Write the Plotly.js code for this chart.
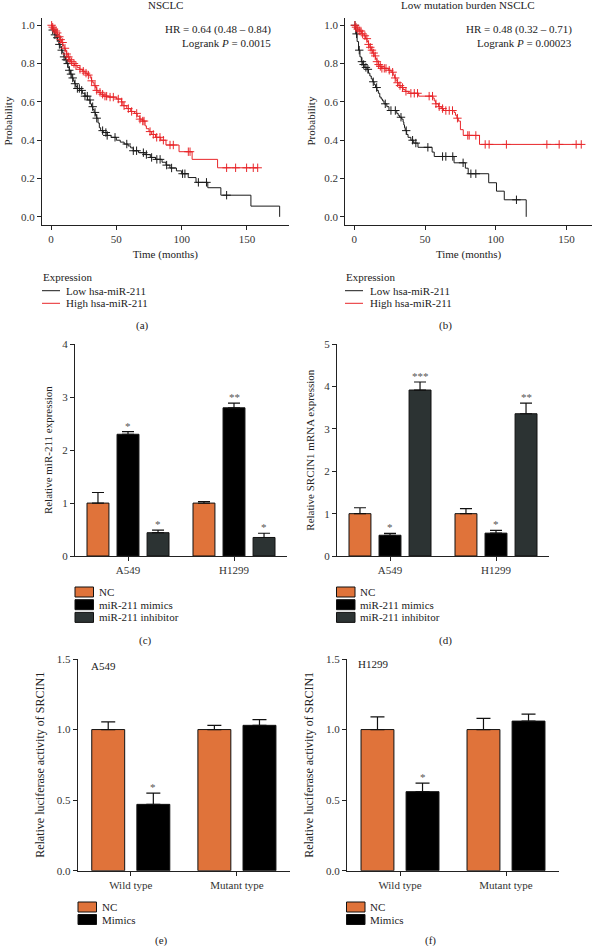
<!DOCTYPE html>
<html><head><meta charset="utf-8">
<script src="https://cdn.plot.ly/plotly-3.0.1.min.js"></script>
<style>html,body{margin:0;padding:0;background:#fff}#chart{width:592px;height:946px}</style>
</head><body><div id="chart"></div>
<script>
// ---------------- DATA ----------------
// (a) NSCLC Kaplan-Meier
var aLowT  = [0,1,2,3,4,5,6,7,8,9,10,11,12,13,14,15,16,17,18,19,20,22,24,26,28,30,31,32,33,34,35,36,37,38,40,43,46,50,53,56,59,61,63,67,72,76,80,85,88,91,96,100,105,111,120,130,153,175];
var aLowS  = [1.0,0.975,0.965,0.95,0.935,0.92,0.90,0.885,0.87,0.855,0.835,0.82,0.80,0.78,0.765,0.745,0.725,0.71,0.695,0.68,0.67,0.66,0.645,0.63,0.61,0.59,0.575,0.56,0.545,0.53,0.515,0.49,0.465,0.45,0.44,0.425,0.415,0.40,0.39,0.38,0.37,0.36,0.345,0.335,0.325,0.31,0.30,0.285,0.27,0.255,0.24,0.225,0.205,0.18,0.152,0.113,0.056,0.0];
var aLowCT = [1.3,3,4.8,6.4,8.2,10,11.5,12.8,14,15.3,16.6,18.4,20.2,21.7,23.5,26,27.8,29.8,31.9,33.7,35,39.5,42,43,49,58,63,65.5,70.7,73,77,81,83.5,88.5,92.3,100.7,102.5,112.8,119,134.4];
var aLowCS = [0.975,0.95,0.935,0.90,0.87,0.835,0.82,0.80,0.765,0.745,0.725,0.695,0.67,0.67,0.66,0.63,0.63,0.61,0.575,0.545,0.515,0.45,0.44,0.425,0.415,0.38,0.345,0.345,0.335,0.325,0.31,0.30,0.30,0.27,0.255,0.225,0.225,0.18,0.18,0.113];
var aHighT = [0,1,2,3,4,5,6,7,8,9,10,11,12,13,14,15,16,18,20,22,24,26,28,30,31,32,33,34,35,36,38,40,44,50,54,55,58,61,64,66,68,70,72,73,75,77,80,84,88,98,108,127.5,158.5];
var aHighS = [1.0,0.99,0.98,0.97,0.96,0.95,0.94,0.925,0.91,0.895,0.88,0.865,0.85,0.835,0.82,0.81,0.80,0.79,0.78,0.77,0.76,0.75,0.74,0.725,0.71,0.70,0.685,0.675,0.66,0.65,0.64,0.63,0.625,0.615,0.60,0.58,0.565,0.55,0.54,0.525,0.51,0.50,0.475,0.46,0.445,0.43,0.415,0.40,0.375,0.34,0.30,0.256,0.256];
var aHighCT = [0.5,1.3,2.3,3.8,4.8,6.4,7.4,8.9,10.7,12,13.3,14.5,15.8,17.6,19.1,22.2,24.7,26.8,28.6,31.1,33.7,35,37.5,39.5,41.3,42.6,45.2,47.7,51.5,54.1,55.9,59.2,61.7,65.6,68.1,70.2,71.2,75.8,78.3,80.9,83.4,86,91.1,93.6,105.1,106.4,134.4,141.3,149.7,154.8,158.2];
var aHighCS = [1.0,0.99,0.98,0.97,0.96,0.94,0.925,0.91,0.88,0.85,0.835,0.82,0.81,0.80,0.79,0.77,0.76,0.75,0.74,0.71,0.685,0.66,0.65,0.64,0.63,0.63,0.625,0.625,0.615,0.60,0.58,0.565,0.55,0.54,0.51,0.50,0.50,0.445,0.43,0.415,0.415,0.40,0.375,0.375,0.34,0.34,0.256,0.256,0.256,0.256,0.256];

// (b) Low mutation burden NSCLC Kaplan-Meier
var bLowT  = [0,1,2,3,4,5,6,7,9,10,11,12,13,14,15,16,17,18,19,20,21,23,24.5,30,31,32,33.5,34.5,35,35.5,36,37,38,40,42,45,55,56.5,70.5,78.5,80.5,95,100.5,106,121.5];
var bLowS  = [1.0,0.955,0.915,0.87,0.835,0.81,0.795,0.78,0.77,0.75,0.735,0.72,0.705,0.69,0.675,0.66,0.645,0.625,0.615,0.605,0.59,0.575,0.555,0.54,0.53,0.52,0.51,0.495,0.48,0.465,0.45,0.43,0.415,0.40,0.385,0.363,0.338,0.315,0.282,0.254,0.225,0.178,0.134,0.089,0.0];
var bLowCT = [0.5,1.6,3.5,5.4,6.6,8.2,9.6,13.4,15.8,21.9,25.9,29,33,36.7,41.2,43.5,52,62.4,64.7,69.6,76.9,82.4,85.9,114.6];
var bLowCS = [1.0,0.955,0.87,0.81,0.795,0.78,0.77,0.705,0.675,0.59,0.555,0.555,0.52,0.45,0.40,0.385,0.363,0.315,0.315,0.315,0.282,0.225,0.225,0.089];
var bHighT = [0,1,2,3.5,5,7,8,9,10,11,12,13,14,15,16,17,18,19.5,24,26,27.5,28.5,29.5,30.5,31.5,33,34.5,36,38.5,45.5,55.5,56.5,57.5,59.5,61.5,63,70.5,71.5,72.5,73.5,75,77,88.5,161];
var bHighS = [1.0,0.99,0.98,0.97,0.955,0.945,0.93,0.915,0.9,0.885,0.87,0.855,0.84,0.825,0.81,0.795,0.785,0.775,0.765,0.755,0.74,0.725,0.71,0.70,0.685,0.675,0.665,0.655,0.645,0.63,0.62,0.605,0.59,0.575,0.565,0.555,0.545,0.53,0.515,0.50,0.455,0.425,0.378,0.378];
var bHighCT = [0.4,1.2,2.4,3.5,4.7,5.9,7.5,8.9,10.1,11.3,12.5,13.7,14.8,16,17.2,18.4,19.5,21.2,22.4,24.7,27.1,28.9,30.6,32.3,34.1,36.5,40,42.4,44.7,52.9,55.3,57.7,60,62.4,64.7,67.1,69.4,72.9,80.2,81.2,85.9,92.5,95.3,107.5,136.1,144.8,156.8,160.4];
var bHighCS = [1.0,0.99,0.98,0.97,0.97,0.955,0.945,0.93,0.9,0.885,0.87,0.855,0.84,0.81,0.795,0.785,0.775,0.775,0.775,0.765,0.755,0.725,0.70,0.685,0.675,0.655,0.645,0.645,0.645,0.63,0.63,0.59,0.575,0.565,0.555,0.555,0.555,0.515,0.425,0.425,0.425,0.378,0.378,0.378,0.378,0.378,0.378,0.378];

var kmTitles = ['NSCLC', 'Low mutation burden NSCLC'];
var kmHR = ['HR = 0.64 (0.48 \u2013 0.84)', 'HR = 0.48 (0.32 \u2013 0.71)'];
var kmP = ['0.0015', '0.00023'];
var kmGroups = ['Low hsa-miR-211', 'High hsa-miR-211'];
var survTicks = [0, 0.2, 0.4, 0.6, 0.8, 1.0];
var survTickText = ['0.0', '0.2', '0.4', '0.6', '0.8', '1.0'];
var timeTicks = [0, 50, 100, 150];

// (c) relative miR-211 expression, (d) relative SRCIN1 mRNA expression
var cellLines = ['A549', 'H1299'];
var groupsCD = ['NC', 'miR-211 mimics', 'miR-211 inhibitor'];
var cNC = [1.00, 1.00],   cNCErr = [0.20, 0.03];
var cMim = [2.30, 2.80],  cMimErr = [0.05, 0.09];
var cInh = [0.44, 0.35],  cInhErr = [0.05, 0.08];
var cSig = [['', ''], ['*', '**'], ['*', '*']];
var dNC = [1.00, 1.00],   dNCErr = [0.14, 0.12];
var dMim = [0.49, 0.54],  dMimErr = [0.045, 0.065];
var dInh = [3.92, 3.36],  dInhErr = [0.19, 0.25];
var dSig = [['', ''], ['*', '*'], ['***', '**']];

// (e) A549 and (f) H1299 luciferase activity
var constructs = ['Wild type', 'Mutant type'];
var groupsEF = ['NC', 'Mimics'];
var eNC = [1.00, 1.00],  eNCErr = [0.054, 0.03];
var eMim = [0.47, 1.03], eMimErr = [0.08, 0.04];
var eSig = [['', ''], ['*', '']];
var fNC = [1.00, 1.00],  fNCErr = [0.09, 0.08];
var fMim = [0.56, 1.06], fMimErr = [0.06, 0.05];
var fSig = [['', ''], ['*', '']];

// ---------------- STYLE / LAYOUT ----------------
var W = 592, H = 946;
function PX(x){ return x / W; }
function PY(y){ return 1 - y / H; }
var FONT = 'Liberation Serif, Times New Roman, serif';
var FS = 11;
var TXT = '#222';
var RED = '#e8262a';
var ORANGE = '#e0733a';
var BLACK = '#000000';
var DARK = '#2c3333';
var barColors = [ORANGE, BLACK, DARK];
var BARGAP = 0.15, GROUPGAP = 0.27;

var traces = [];
function km(t, s, ct, cs, color, xa, ya) {
  traces.push({x: t, y: s, mode: 'lines', line: {shape: 'hv', color: color, width: 1},
    xaxis: xa, yaxis: ya, showlegend: false, hoverinfo: 'skip'});
  traces.push({x: ct, y: cs, mode: 'markers', xaxis: xa, yaxis: ya, showlegend: false, hoverinfo: 'skip',
    marker: {symbol: 'cross-thin', size: 6, color: color, line: {color: color, width: 1}}});
}
km(aLowT, aLowS, aLowCT, aLowCS, '#1a1a1a', 'x', 'y');
km(aHighT, aHighS, aHighCT, aHighCS, RED, 'x', 'y');
km(bLowT, bLowS, bLowCT, bLowCS, '#1a1a1a', 'x2', 'y2');
km(bHighT, bHighS, bHighCT, bHighCS, RED, 'x2', 'y2');

function bar(name, cats, vals, errs, color, xa, ya, cap) {
  traces.push({type: 'bar', name: name, x: cats, y: vals, xaxis: xa, yaxis: ya, showlegend: false,
    marker: {color: color, line: {color: '#111', width: 1}},
    error_y: {type: 'data', symmetric: false, array: errs, arrayminus: vals.map(function(){return 0;}),
      color: '#111', thickness: 1.2, width: cap}, hoverinfo: 'skip'});
}
bar(groupsCD[0], cellLines, cNC, cNCErr, barColors[0], 'x3', 'y3', 6);
bar(groupsCD[1], cellLines, cMim, cMimErr, barColors[1], 'x3', 'y3', 6);
bar(groupsCD[2], cellLines, cInh, cInhErr, barColors[2], 'x3', 'y3', 6);
bar(groupsCD[0], cellLines, dNC, dNCErr, barColors[0], 'x4', 'y4', 6);
bar(groupsCD[1], cellLines, dMim, dMimErr, barColors[1], 'x4', 'y4', 6);
bar(groupsCD[2], cellLines, dInh, dInhErr, barColors[2], 'x4', 'y4', 6);
bar(groupsEF[0], constructs, eNC, eNCErr, barColors[0], 'x5', 'y5', 7);
bar(groupsEF[1], constructs, eMim, eMimErr, barColors[1], 'x5', 'y5', 7);
bar(groupsEF[0], constructs, fNC, fNCErr, barColors[0], 'x6', 'y6', 7);
bar(groupsEF[1], constructs, fMim, fMimErr, barColors[1], 'x6', 'y6', 7);

var tickFont = {family: FONT, size: FS, color: '#333'};
function axBase(extra) {
  var o = {showline: true, linecolor: '#222', linewidth: 1, ticks: 'outside', ticklen: 4, tickwidth: 1,
    tickcolor: '#222', showgrid: false, zeroline: false, tickfont: tickFont, fixedrange: true};
  for (var k in extra) o[k] = extra[k];
  return o;
}
function ttl(s, standoff, size) { return {text: s, font: {family: FONT, size: size || FS, color: TXT}, standoff: standoff}; }
var kmY = [PY(224.5), PY(17.6)];
var barYtop = [PY(556), PY(344.3)];
var barYbot = [PY(870.7), PY(659)];
var dom = {
  a: [PX(41.85), PX(288.8)], b: [PX(345.1), PX(592)],
  c: [PX(75), PX(287)], d: [PX(337), PX(549)],
  e: [PX(77.7), PX(290)], f: [PX(347), PX(559)]
};

var layout = {
  width: W, height: H, margin: {l: 0, r: 0, t: 0, b: 0},
  paper_bgcolor: '#fff', plot_bgcolor: 'rgba(0,0,0,0)',
  font: {family: FONT, color: TXT, size: FS},
  barmode: 'group', bargap: BARGAP, bargroupgap: GROUPGAP,
  showlegend: false,
  xaxis: axBase({domain: dom.a, anchor: 'y', range: [-7, 182], tickvals: timeTicks, title: ttl('Time (months)', 6)}),
  yaxis: axBase({domain: kmY, anchor: 'x', range: [-0.04, 1.04], tickvals: survTicks, ticktext: survTickText, title: ttl('Probability', 6)}),
  xaxis2: axBase({domain: dom.b, anchor: 'y2', range: [-6.5, 168], tickvals: timeTicks, title: ttl('Time (months)', 6)}),
  yaxis2: axBase({domain: kmY, anchor: 'x2', range: [-0.04, 1.04], tickvals: survTicks, ticktext: survTickText, title: ttl('Probability', 6)}),
  xaxis3: axBase({domain: dom.c, anchor: 'y3', type: 'category', range: [-0.5, 1.5]}),
  yaxis3: axBase({domain: barYtop, anchor: 'x3', range: [0, 4], tickvals: [0,1,2,3,4], title: ttl('Relative miR-211 expression', 7)}),
  xaxis4: axBase({domain: dom.d, anchor: 'y4', type: 'category', range: [-0.5, 1.5]}),
  yaxis4: axBase({domain: barYtop, anchor: 'x4', range: [0, 5], tickvals: [0,1,2,3,4,5], title: ttl('Relative SRCIN1 mRNA expression', 7)}),
  xaxis5: axBase({domain: dom.e, anchor: 'y5', type: 'category', range: [-0.5, 1.5]}),
  yaxis5: axBase({domain: barYbot, anchor: 'x5', range: [0, 1.5], tickvals: [0, 0.5, 1.0, 1.5], ticktext: ['0.0','0.5','1.0','1.5'], title: ttl('Relative luciferase activity of SRCIN1', 9, 12)}),
  xaxis6: axBase({domain: dom.f, anchor: 'y6', type: 'category', range: [-0.5, 1.5]}),
  yaxis6: axBase({domain: barYbot, anchor: 'x6', range: [0, 1.5], tickvals: [0, 0.5, 1.0, 1.5], ticktext: ['0.0','0.5','1.0','1.5'], title: ttl('Relative luciferase activity of SRCIN1', 9, 12)}),
  annotations: [], shapes: []
};

function txt(s, x, y, xanchor, extra) {
  var a = {text: s, xref: 'paper', yref: 'paper', x: PX(x), y: PY(y), xanchor: xanchor || 'center', yanchor: 'middle',
    showarrow: false, font: {family: FONT, size: FS, color: TXT}, borderpad: 0};
  for (var k in extra) a[k] = extra[k];
  layout.annotations.push(a);
}

// KM panel texts
txt(kmTitles[0], 165.5, 5);
txt(kmTitles[1], 468, 5);
txt(kmHR[0], 272, 29, 'right');
txt('Logrank <i>P</i> = ' + kmP[0], 272, 43, 'right');
txt(kmHR[1], 573, 29, 'right');
txt('Logrank <i>P</i> = ' + kmP[1], 573, 43, 'right');

// KM legends
[[42, 65], [345, 368.5]].forEach(function(p) {
  txt('Expression', p[0], 277, 'left');
  [[290.7, '#1a1a1a', kmGroups[0]], [303.3, RED, kmGroups[1]]].forEach(function(r) {
    layout.shapes.push({type: 'line', xref: 'paper', yref: 'paper', x0: PX(p[0]), x1: PX(p[0] + 18), y0: PY(r[0]), y1: PY(r[0]), line: {color: r[1], width: 1}});
    txt(r[2], p[1], r[0], 'left');
  });
});

// Bar legends
function barLegend(x0, ys, names) {
  names.forEach(function(n, i) {
    layout.shapes.push({type: 'rect', xref: 'paper', yref: 'paper', x0: PX(x0), x1: PX(x0 + 18.5), y0: PY(ys[i] - 5), y1: PY(ys[i] + 5),
      fillcolor: barColors[i], line: {color: '#111', width: 1}});
    txt(n, x0 + 22.5, ys[i], 'left');
  });
}
barLegend(75, [592, 604.7, 617.4], groupsCD);
barLegend(336.5, [592, 604.7, 617.4], groupsCD);
barLegend(78, [907, 919.5], groupsEF);
barLegend(346.5, [907, 919.5], groupsEF);

// Panel labels
txt('(a)', 142, 325); txt('(b)', 445, 325);
txt('(c)', 145, 640); txt('(d)', 445, 640);
txt('(e)', 161, 940); txt('(f)', 430, 940);

// cell line labels in (e)/(f)
txt(cellLines[0], 103.5, 666, 'center');
txt(cellLines[1], 373, 664, 'center');

// significance stars
function stars(xa, ya, cats, series, sig, domPx) {
  var n = series.length;
  var catW = (domPx[1] - domPx[0]) * W / 2;
  var slot = catW * (1 - BARGAP) / n;
  series.forEach(function(s, i) {
    cats.forEach(function(c, j) {
      if (!sig[i][j]) return;
      layout.annotations.push({text: sig[i][j], xref: xa, yref: ya, x: c, y: s[0][j] + s[1][j],
        xshift: (i - (n - 1) / 2) * slot, yshift: -2, xanchor: 'center', yanchor: 'bottom', showarrow: false,
        font: {family: FONT, size: 11, color: '#555'}});
    });
  });
}
stars('x3', 'y3', cellLines, [[cNC, cNCErr], [cMim, cMimErr], [cInh, cInhErr]], cSig, dom.c);
stars('x4', 'y4', cellLines, [[dNC, dNCErr], [dMim, dMimErr], [dInh, dInhErr]], dSig, dom.d);
stars('x5', 'y5', constructs, [[eNC, eNCErr], [eMim, eMimErr]], eSig, dom.e);
stars('x6', 'y6', constructs, [[fNC, fNCErr], [fMim, fMimErr]], fSig, dom.f);

Plotly.newPlot('chart', traces, layout, {staticPlot: true, displayModeBar: false});
</script></body></html>
